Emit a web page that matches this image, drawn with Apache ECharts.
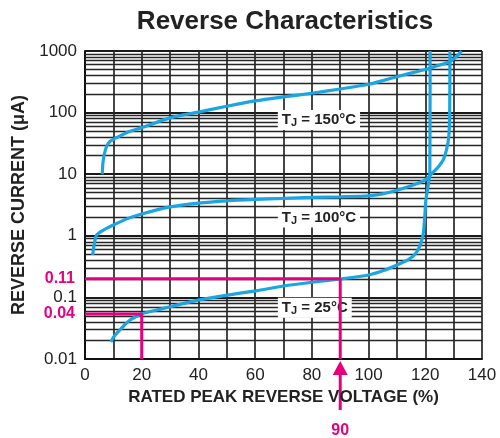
<!DOCTYPE html>
<html><head><meta charset="utf-8">
<script src="https://cdn.jsdelivr.net/npm/echarts@6/dist/echarts.min.js"></script>
<style>html,body{margin:0;padding:0;background:#fff}#c{width:500px;height:438px}</style>
</head><body><div id="c"></div>
<script>
// ---- data ----
const titleText = 'Reverse Characteristics';
const xName = 'RATED PEAK REVERSE VOLTAGE (%)';
const yName = 'REVERSE CURRENT (\u03bcA)';
const xTickValues = [0, 20, 40, 60, 80, 100, 120, 140];
const yTickValues = [0.01, 0.1, 1, 10, 100, 1000];
const curve150 = [[6.1,10],[6.3,15],[6.8,21],[7.6,28],[8.8,34],[10.5,38],[12,41],[15,48],[20,57],[30,82],[40,102],[50,127],[60,155],[70,180],[80,206],[90,242],[100,288],[105,330],[111,393],[116,450],[121.6,524],[125,590],[128.7,670],[130.5,780],[131.8,880],[132.8,1000]];
const curve100 = [[2.7,0.49],[3.3,0.75],[4.1,1.03],[6.5,1.24],[10,1.5],[15,1.9],[20,2.26],[30,2.95],[40,3.4],[50,3.7],[60,3.9],[70,4.05],[80,4.2],[90,4.3],[100,4.45],[105,4.8],[110,5.5],[115,6.5],[120,8.1],[122.5,10.5],[124.5,13],[126.3,17],[127.5,25],[128.3,41],[128.6,100],[128.7,1000]];
const curve25 = [[9.1,0.019],[10.5,0.024],[12.3,0.0296],[14,0.036],[15.9,0.043],[18,0.049],[20,0.054],[25,0.062],[30.3,0.071],[40.3,0.091],[50.3,0.109],[60.3,0.128],[70,0.153],[80,0.176],[90,0.199],[100,0.231],[105,0.27],[110,0.336],[114,0.41],[116,0.48],[117.5,0.6],[118.6,0.8],[119.3,1.1],[119.8,2],[120.2,3.8],[121,6.5],[121.6,10],[121.7,1000]];
const curveTemps = ['150\u00b0C', '100\u00b0C', '25\u00b0C'];
const markXValues = [90, 20];
const markYValues = [0.2, 0.054];
const markTexts = ['0.11', '0.04'];
const arrowText = '90';

// ---- style ----
const FONT = '"Liberation Sans", Arial, Helvetica, sans-serif';
const BLUE = '#1ba5e2';
const PINK = '#e5007d';
const GRID = '#262626';

const minorVals = [];
for (let e = -2; e <= 2; e++) for (let k = 2; k <= 9; k++) minorVals.push(+(k * Math.pow(10, e)).toPrecision(3));

function yFmt(v) {
  const r = parseFloat(Number(v).toPrecision(2));
  return yTickValues.indexOf(r) >= 0 ? String(r) : '';
}
const labelAnchors = [[68, 76], [68, 1.98], [68, 0.068]];
const rich = {
  t: {fontFamily: FONT, fontSize: 15, fontWeight: 'bold', color: '#222', lineHeight: 18, verticalAlign: 'middle'},
  j: {fontFamily: FONT, fontSize: 11, fontWeight: 'bold', color: '#222', lineHeight: 10, verticalAlign: 'bottom'}
};
function curveSeries(data, i) {
  return {
    type: 'line', data: data, showSymbol: false, smooth: 0.25, z: 5, silent: true,
    lineStyle: {color: BLUE, width: 3.2},
    markPoint: {
      silent: true, symbol: 'circle', symbolSize: 0,
      data: [{coord: labelAnchors[i]}],
      label: {show: true, position: 'right', distance: 0,
        formatter: '{t|T}{j|J}{t| = ' + curveTemps[i] + '}',
        backgroundColor: '#fff', padding: [1, 4, 1, 4], rich: rich}
    }
  };
}
function markSeries(i) {
  return {
    type: 'line', z: 6, silent: true, symbol: 'circle', symbolSize: 0.01, showSymbol: true,
    lineStyle: {color: PINK, width: 3},
    data: [
      {value: [0, markYValues[i]], label: {show: true, position: 'left', distance: 10, formatter: markTexts[i],
        fontFamily: FONT, fontSize: 16, fontWeight: 'bold', color: PINK}},
      [markXValues[i], markYValues[i]],
      [markXValues[i], yTickValues[0]]
    ]
  };
}

const chart = echarts.init(document.getElementById('c'), null, {renderer: 'canvas'});
chart.setOption({
  animation: false,
  backgroundColor: '#fff',
  title: {text: titleText, left: 280, top: 4, textAlign: 'center',
    textStyle: {fontFamily: FONT, fontSize: 26, fontWeight: 'bold', color: '#222'}},
  grid: {left: 85, right: 18, top: 51, bottom: 79},
  xAxis: {
    type: 'value', min: 0, max: 140, interval: 10,
    name: xName, nameLocation: 'middle', nameGap: 27,
    nameTextStyle: {fontFamily: FONT, fontSize: 17, fontWeight: 'bold', color: '#222'},
    axisLine: {show: true, lineStyle: {color: '#111', width: 2}},
    axisTick: {show: false},
    axisLabel: {margin: 8, fontFamily: FONT, fontSize: 17, color: '#222',
      formatter: v => (xTickValues.indexOf(v) >= 0 ? String(v) : '')},
    splitLine: {show: true, lineStyle: {color: GRID, width: 1.7}}
  },
  yAxis: {
    type: 'log', logBase: 10, min: 0.01, max: 1000,
    name: yName, nameLocation: 'middle', nameGap: 52,
    nameTextStyle: {fontFamily: FONT, fontSize: 18, fontWeight: 'bold', color: '#222'},
    axisLine: {show: true, lineStyle: {color: '#111', width: 2}},
    axisTick: {show: false},
    axisLabel: {margin: 8, fontFamily: FONT, fontSize: 17, color: '#222', formatter: yFmt},
    splitLine: {show: true, lineStyle: {color: '#1a1a1a', width: 2}}
  },
  series: [
    {type: 'line', z: 1, silent: true, showSymbol: false, data: [[0, 1]], lineStyle: {opacity: 0},
      markLine: {silent: true, symbol: ['none', 'none'], label: {show: false},
        lineStyle: {color: GRID, width: 1.4, type: 'solid'},
        data: minorVals.map(v => ({yAxis: v}))}},
    curveSeries(curve150, 0),
    curveSeries(curve100, 1),
    curveSeries(curve25, 2),
    markSeries(0),
    markSeries(1)
  ]
});

const p = chart.convertToPixel({gridIndex: 0}, [markXValues[0], yTickValues[0]]);
chart.setOption({
  graphic: [
    {type: 'line', silent: true, shape: {x1: p[0], y1: p[1] + 14, x2: p[0], y2: p[1] + 51},
      style: {stroke: PINK, lineWidth: 3}},
    {type: 'polygon', silent: true, shape: {points: [[p[0], p[1] + 2], [p[0] - 7.5, p[1] + 16], [p[0] + 7.5, p[1] + 16]]},
      style: {fill: PINK}},
    {type: 'text', silent: true, x: p[0], y: p[1] + 72,
      style: {text: arrowText, fill: PINK, font: 'bold 16px ' + FONT, textAlign: 'center', textVerticalAlign: 'middle'}}
  ]
});
</script>
</body></html>
